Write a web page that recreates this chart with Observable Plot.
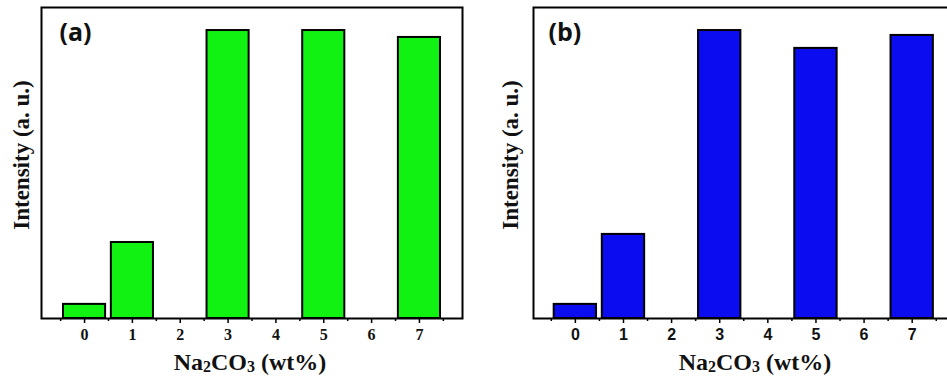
<!DOCTYPE html>
<html><head><meta charset="utf-8">
<script src="https://cdn.jsdelivr.net/npm/d3@7"></script>
<script src="https://cdn.jsdelivr.net/npm/@observablehq/plot@0.6"></script>
<style>
html,body{margin:0;padding:0;background:#fff;}
#wrap{position:relative;width:947px;height:382px;overflow:hidden;background:#fff;}
#wrap svg{position:absolute;top:0;}
</style></head><body><div id="wrap"></div>
<script>
// Na2CO3 content (wt%) of the bars
const concentrations = [0, 1, 3, 5, 7];
// Intensity (a. u.), panel (a) and panel (b)
const intensityA = [4.9, 26.4, 100, 100, 97.6];
const intensityB = [4.9, 29.2, 100, 93.8, 98.3];
// Axis ticks
const tickLabels = [0, 1, 2, 3, 4, 5, 6, 7];
const minorTicks = [-0.5, 0.5, 1.5, 2.5, 3.5, 4.5, 5.5, 6.5, 7.5];
const panelLabels = ["(a)", "(b)"];
const yTitle = "Intensity (a. u.)";

const serif = "'Liberation Serif','Times New Roman',serif";
const sans = "'Liberation Sans',Arial,sans-serif";

function panel({values, fill, label, left, width, marginLeft, xDomain, tickFont, tickSize, yDx, titleX, labelDx}) {
  const data = concentrations.map((c, i) => ({c, v: values[i]}));
  const svg = Plot.plot({
    width, height: 382,
    marginLeft, marginRight: 8, marginTop: 7, marginBottom: 64,
    style: {background: "transparent", overflow: "visible"},
    x: {domain: xDomain, label: null},
    y: {domain: [0, 108], axis: null},
    marks: [
      Plot.rectY(data, {x1: d => d.c - 0.44, x2: d => d.c + 0.44, y: "v", fill, stroke: "black", strokeWidth: 2}),
      Plot.frame({stroke: "black", strokeWidth: 2}),
      Plot.axisX(minorTicks, {tickSize: 3, strokeWidth: 1.5, tickFormat: () => "", label: null}),
      Plot.tickX(tickLabels, {x: d => d, y: 0, dy: 0, stroke: "black", strokeWidth: 1.5, insetTop: 0}),
      Plot.axisX(tickLabels, {tickSize: 5, tickPadding: 5, strokeWidth: 1.5, label: null, tickFormat: d => String(d)}),
      Plot.text([yTitle], {frameAnchor: "left", rotate: -90, dx: yDx, dy: -8, fontSize: 23, fontFamily: serif, fontWeight: "bold", fill: "#111", textAnchor: "middle"}),
      Plot.text([label], {frameAnchor: "top-left", dx: labelDx, dy: 16, textAnchor: "start", lineAnchor: "top", fontSize: 25, fontFamily: "'Open Sans',sans-serif", fontWeight: "bold", fill: "#111"})
    ].filter((m, i) => i !== 3)
  });
  svg.style.left = left + "px";
  // give the integer tick labels the intended font
  d3.select(svg).selectAll("text").each(function() {
    if (/^\d$/.test(this.textContent)) {
      d3.select(this).style("font-size", tickSize + "px").style("font-family", tickFont)
        .style("font-weight", "bold").style("fill", "#111");
    }
  });
  const t = d3.select(svg).append("text")
    .attr("x", titleX).attr("y", 370)
    .attr("text-anchor", "middle")
    .attr("font-family", serif).attr("font-weight", "bold")
    .attr("font-size", 24).attr("fill", "#111");
  t.append("tspan").text("Na");
  t.append("tspan").attr("font-size", 16).attr("dy", 2).text("2");
  t.append("tspan").attr("dy", -2).text("CO");
  t.append("tspan").attr("font-size", 16).attr("dy", 2).text("3");
  t.append("tspan").attr("dy", -2).text(" (wt%)");
  document.getElementById("wrap").appendChild(svg);
}

panel({values: intensityA, fill: "#12f212", label: panelLabels[0], left: 0, width: 470, marginLeft: 41,
  xDomain: [-0.9, 7.9], tickFont: serif, tickSize: 16, yDx: -20, titleX: 250, labelDx: 18});
panel({values: intensityB, fill: "#0c0cf0", label: panelLabels[1], left: 470, width: 493, marginLeft: 63,
  xDomain: [-0.87, 7.9], tickFont: sans, tickSize: 16, yDx: -23, titleX: 285, labelDx: 15});
</script></body></html>
